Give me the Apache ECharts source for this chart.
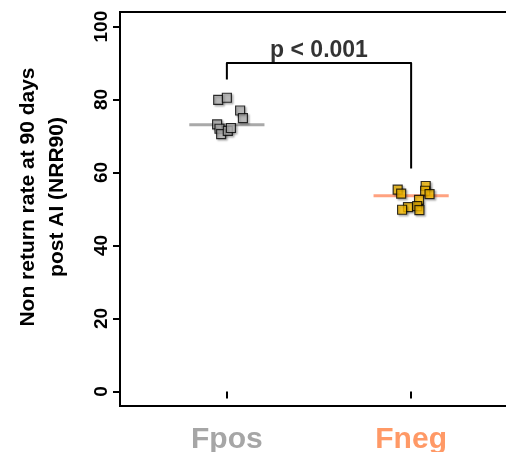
<!DOCTYPE html>
<html>
<head>
<meta charset="utf-8">
<script src="https://cdn.jsdelivr.net/npm/echarts@6/dist/echarts.min.js"></script>
<style>
html,body{margin:0;padding:0;background:#fff;}
#chart{width:506px;height:452px;}
</style>
</head>
<body>
<div id="chart"></div>
<script>
// ---- data ----
var categories = ['Fpos', 'Fneg'];
var categoryPos = [1, 2];
var yTicks = [0, 20, 40, 60, 80, 100];
var fposValues = [79.9, 80.5, 77.0, 74.9, 73.2, 72.0, 70.5, 71.4, 72.2];
var fposJitter = [-0.047, 0.0, 0.072, 0.087, -0.053, -0.040, -0.031, 0.005, 0.022];
var fnegValues = [55.3, 54.2, 56.3, 55.0, 54.1, 52.5, 50.5, 49.8, 50.8, 49.7];
var fnegJitter = [-0.073, -0.054, 0.079, 0.076, 0.100, 0.043, -0.017, -0.049, 0.033, 0.045];
var medians = [73.1, 53.6];
var bracketY = [85.5, 90.0, 90.0, 61.1];
var pLabel = 'p < 0.001';

var FONT = 'Liberation Sans, Arial, Helvetica, sans-serif';
var catColors = ['#A6A6A6', '#FF9966'];
var lineColors = ['#A9A9A9', '#FFA280'];
var fillColors = ['#B5B5B5', '#FFC000'];
var halfW = 0.204;

function pts(pos, jit, vals) {
  return vals.map(function (v, i) { return [pos + jit[i], v]; });
}

var series = [];
// median lines
[0, 1].forEach(function (k) {
  series.push({
    type: 'line', z: 1, silent: true, symbol: 'none',
    data: [[categoryPos[k] - halfW, medians[k]], [categoryPos[k] + halfW, medians[k]]],
    lineStyle: { color: lineColors[k], width: 3 }
  });
});
var markerStyle = function (k) {
  return {
    color: fillColors[k], borderColor: '#000', borderWidth: 1.2,
    shadowColor: 'rgba(0,0,0,0.3)', shadowBlur: 2, shadowOffsetX: 1.5, shadowOffsetY: 1.5
  };
};
series.push({
  type: 'scatter', z: 3, symbol: 'rect', symbolSize: 9,
  data: pts(categoryPos[0], fposJitter, fposValues), itemStyle: markerStyle(0)
});
series.push({
  type: 'scatter', z: 3, symbol: 'rect', symbolSize: 9,
  data: pts(categoryPos[1], fnegJitter, fnegValues), itemStyle: markerStyle(1)
});
// significance bracket
series.push({
  type: 'line', z: 2, symbol: 'none', silent: true,
  data: [[categoryPos[0], bracketY[0]], [categoryPos[0], bracketY[1]], [categoryPos[1], bracketY[2]], [categoryPos[1], bracketY[3]]],
  lineStyle: { color: '#000', width: 2, join: 'round' }
});
series.push({
  type: 'scatter', z: 4, symbolSize: 0, silent: true,
  data: [[(categoryPos[0] + categoryPos[1]) / 2, bracketY[1]]],
  label: {
    show: true, position: 'top', distance: 1, formatter: pLabel,
    color: '#000', fontFamily: FONT, fontWeight: 'bold', fontSize: 23
  }
});

var chart = echarts.init(document.getElementById('chart'), null, { renderer: 'canvas' });
chart.setOption({
  animation: false,
  backgroundColor: '#fff',
  grid: {
    left: 120, top: 12, width: 398, bottom: 46, outerBoundsMode: 'none', containLabel: false,
    show: true, borderColor: '#000', borderWidth: 2, backgroundColor: 'transparent'
  },
  xAxis: {
    type: 'value', min: 0.42, max: 2.58,
    splitLine: { show: false },
    axisLine: { show: false },
    axisTick: { show: true, length: 7, customValues: categoryPos, lineStyle: { color: '#000', width: 2 } },
    axisLabel: {
      customValues: categoryPos, margin: 19,
      formatter: function (v) { var i = categoryPos.indexOf(v); return '{c' + i + '|' + categories[i] + '}'; },
      rich: {
        c0: { color: catColors[0], fontFamily: FONT, fontWeight: 'bold', fontSize: 30 },
        c1: { color: catColors[1], fontFamily: FONT, fontWeight: 'bold', fontSize: 30 }
      }
    }
  },
  yAxis: {
    type: 'value', min: -4, max: 104,
    splitLine: { show: false },
    axisLine: { show: false },
    axisTick: { show: true, length: 7, customValues: yTicks, lineStyle: { color: '#000', width: 2 } },
    axisLabel: {
      customValues: yTicks, rotate: 90, margin: 9,
      color: '#000', fontFamily: FONT, fontWeight: 'bold', fontSize: 19
    }
  },
  graphic: [{
    type: 'text', x: 43, y: 197, rotation: Math.PI / 2,
    style: {
      text: 'Non return rate at 90 days\npost AI (NRR90)',
      align: 'center', verticalAlign: 'middle',
      font: 'bold 21px ' + FONT, lineHeight: 29, fill: '#000'
    }
  }],
  series: series
});
</script>
</body>
</html>
